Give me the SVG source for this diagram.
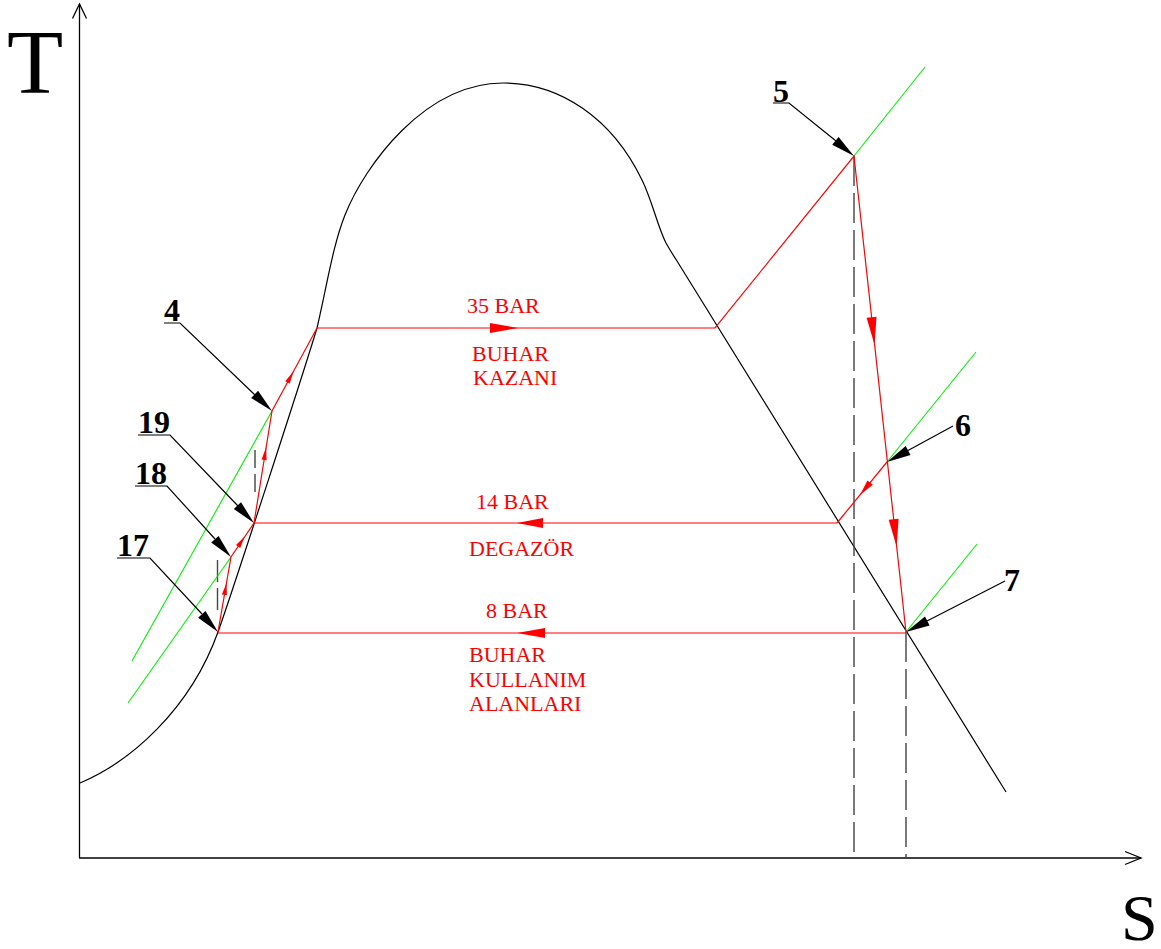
<svg xmlns="http://www.w3.org/2000/svg" width="1161" height="949" viewBox="0 0 1161 949">
<style>
.ax{stroke:#000;stroke-width:1.3;fill:none}
.sat{stroke:#000;stroke-width:1.2;fill:none}
.pr{stroke:#ff0000;stroke-width:1.2;fill:none}
.ra{fill:#ff0000;stroke:none}
.gr{stroke:#00ee00;stroke-width:1.1;fill:none}
.da{stroke:#444;stroke-width:1.4;fill:none;stroke-dasharray:30 7}
.ld{stroke:#000;stroke-width:1.2;fill:none}
.ah{fill:#000;stroke:none}
.lb{font-family:"Liberation Serif","Times New Roman",serif;font-weight:bold;font-size:32px;fill:#000}
.rt{font-family:"Liberation Serif","Times New Roman",serif;font-size:22px;fill:#ff0000}
.big{font-family:"Liberation Serif","Times New Roman",serif;fill:#000}
</style>
<rect width="1161" height="949" fill="#fff"/>
<g id="axes">
<line class="ax" x1="79.5" y1="858" x2="79.5" y2="4"/>
<polyline class="ax" points="72.5,18.5 79.5,4 86.5,18.5"/>
<line class="ax" x1="79" y1="858" x2="1141" y2="858"/>
<polyline class="ax" points="1125,851.5 1141,858 1125,864.5"/>
<text class="big" x="7" y="93" font-size="92">T</text>
<text class="big" x="1121" y="940" font-size="66">S</text>
</g>
<g id="saturation-curve">
<path class="sat" d="M80,783 C130,762 190,710 218,632 C232,593 305,368 317,328 C327,285 333,245 345,215 C365,165 425,83 503,83 C560,83 612,118 642,180 C652,200 658,228 666,243 C670,250 673,255 677,261 L1006,792"/>
</g>
<g id="dashed-lines">
<line class="da" x1="854" y1="156" x2="854" y2="858"/>
<line class="da" x1="906" y1="632" x2="906" y2="858"/>
<line class="da" x1="217.5" y1="560" x2="217.5" y2="610" style="stroke-dasharray:22 6"/>
<line class="da" x1="255" y1="450" x2="255" y2="492" style="stroke-dasharray:18 6"/>
</g>
<g id="green-lines">
<line class="gr" x1="132" y1="661" x2="272" y2="411"/>
<line class="gr" x1="128" y1="703" x2="231" y2="557"/>
<line class="gr" x1="854" y1="156" x2="925" y2="67"/>
<line class="gr" x1="887" y1="462" x2="976" y2="352"/>
<line class="gr" x1="906" y1="632" x2="977" y2="544"/>
</g>
<g id="connectors">
<polyline class="pr" points="218,632 231,557 254,523 272,411 317,328 715,328 854,156 906,632"/>
<line class="pr" x1="887" y1="462" x2="837" y2="523"/>
<line class="pr" x1="837" y1="523" x2="254" y2="523"/>
<line class="pr" x1="906" y1="633" x2="218" y2="633"/>
<polygon class="ra" points="226.5,583 226.9,595.2 221.9,594.4"/>
<polygon class="ra" points="244.8,536.6 240.2,547.9 236.0,545.1"/>
<polygon class="ra" points="266.2,447 266.6,460.2 261.6,459.4"/>
<polygon class="ra" points="293.7,371 289.7,383.6 285.3,381.2"/>
<polygon class="ra" points="518,328 490,323 490,333"/>
<polygon class="ra" points="517,523 543,518 543,528"/>
<polygon class="ra" points="517,633 545,628 545,638"/>
<polygon class="ra" points="874.6,345 876.5,316.7 866.6,317.7"/>
<polygon class="ra" points="896.7,547 898.6,518.7 888.7,519.7"/>
<polygon class="ra" points="860,495 872.8,484.8 867.4,480.4"/>
</g>
<g id="process-labels">
<text class="rt" x="467" y="313">35 BAR</text>
<text class="rt" x="472" y="361">BUHAR</text>
<text class="rt" x="473" y="385">KAZANI</text>
<text class="rt" x="476" y="509">14 BAR</text>
<text class="rt" x="469" y="556">DEGAZÖR</text>
<text class="rt" x="486" y="618">8 BAR</text>
<text class="rt" x="469" y="662">BUHAR</text>
<text class="rt" x="469" y="687">KULLANIM</text>
<text class="rt" x="469" y="711">ALANLARI</text>
</g>
<g id="point-4">
<text class="lb" x="164" y="321">4</text>
<polyline class="ld" points="164,323 180,323 255,395"/>
<polygon class="ah" points="272,411 251.2,398.0 258.1,390.8"/>
</g>
<g id="point-19">
<text class="lb" x="138" y="433">19</text>
<polyline class="ld" points="138,435 170,435 238,506"/>
<polygon class="ah" points="254,523 233.8,509.1 241.0,502.2"/>
</g>
<g id="point-18">
<text class="lb" x="135" y="484">18</text>
<polyline class="ld" points="135,486 167,486 215,539"/>
<polygon class="ah" points="231,557 211.2,542.6 218.6,535.9"/>
</g>
<g id="point-17">
<text class="lb" x="117" y="556">17</text>
<polyline class="ld" points="117,558 150,558 202,614"/>
<polygon class="ah" points="218,632 198.1,617.7 205.5,610.9"/>
</g>
<g id="point-5">
<text class="lb" x="773" y="102">5</text>
<polyline class="ld" points="773,103 789,103 836,141"/>
<polygon class="ah" points="854,156 832.2,144.7 838.6,136.9"/>
</g>
<g id="point-6">
<text class="lb" x="955" y="436">6</text>
<line class="ld" x1="953" y1="426" x2="908" y2="450.5"/>
<polygon class="ah" points="887,462 905.7,446.1 910.5,454.9"/>
</g>
<g id="point-7">
<text class="lb" x="1004" y="591">7</text>
<line class="ld" x1="1005" y1="581" x2="927" y2="621"/>
<polygon class="ah" points="906,632 925.0,616.6 929.6,625.4"/>
</g>
</svg>
